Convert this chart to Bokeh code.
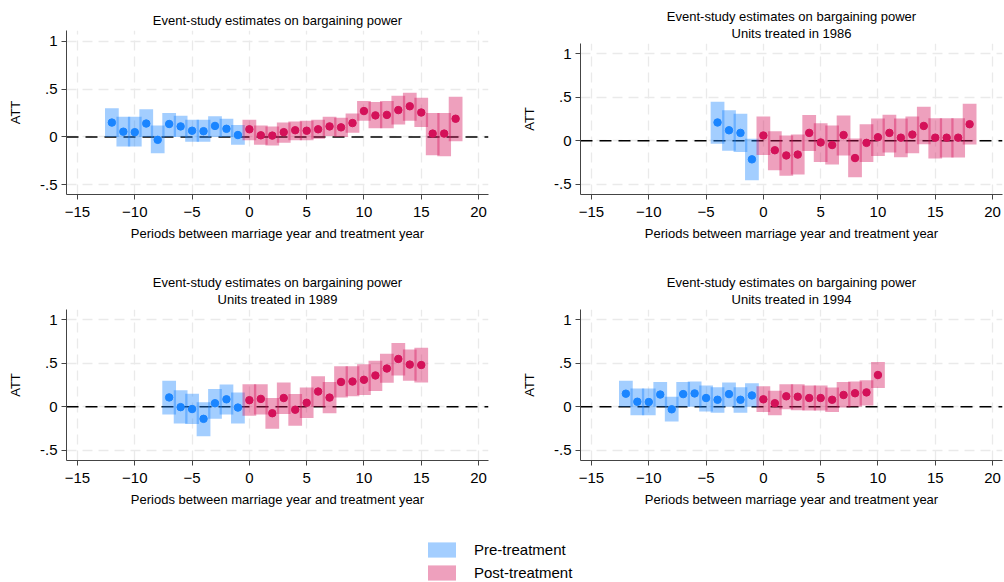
from bokeh.plotting import figure
from bokeh.layouts import column, row
from bokeh.models import (Range1d, FixedTicker, Span, Title, Legend, LegendItem,
                          ColumnDataSource)
from bokeh.embed import file_html
from bokeh.resources import INLINE

# ---------------- data ----------------
# Panel 1: all cohorts
p1_periods = list(range(-12, 19))
p1_est = [0.15, 0.055, 0.05, 0.14, -0.03, 0.135, 0.11, 0.065, 0.06, 0.115, 0.085, 0.02,
          0.08, 0.017, 0.014, 0.05, 0.07, 0.065, 0.08, 0.11, 0.10, 0.145, 0.27, 0.225,
          0.23, 0.28, 0.32, 0.255, 0.035, 0.035, 0.19]
p1_lo = [0.0, -0.10, -0.10, 0.0, -0.17, 0.0, 0.0, -0.05, -0.05, 0.0, 0.0, -0.08,
         -0.035, -0.08, -0.09, -0.06, -0.035, -0.035, -0.02, 0.01, 0.0, 0.045, 0.17, 0.09,
         0.09, 0.13, 0.17, 0.105, -0.19, -0.20, -0.045]
p1_hi = [0.30, 0.21, 0.21, 0.29, 0.12, 0.25, 0.22, 0.18, 0.18, 0.215, 0.19, 0.125,
         0.18, 0.12, 0.11, 0.15, 0.16, 0.17, 0.18, 0.21, 0.20, 0.245, 0.375, 0.365,
         0.375, 0.43, 0.46, 0.41, 0.25, 0.25, 0.42]

# Panel 2: units treated in 1986
p2_periods = list(range(-4, 19))
p2_est = [0.21, 0.12, 0.09, -0.215, 0.06, -0.11, -0.17, -0.16, 0.09, -0.02, -0.05, 0.065,
          -0.20, -0.025, 0.04, 0.09, 0.035, 0.07, 0.17, 0.035, 0.035, 0.035, 0.19]
p2_lo = [-0.035, -0.115, -0.13, -0.455, -0.165, -0.34, -0.405, -0.39, -0.12, -0.245, -0.275,
         -0.17, -0.42, -0.245, -0.175, -0.135, -0.19, -0.145, -0.04, -0.205, -0.195, -0.195,
         -0.045]
p2_hi = [0.45, 0.35, 0.31, 0.023, 0.28, 0.11, 0.06, 0.07, 0.295, 0.20, 0.175, 0.29,
         0.025, 0.19, 0.255, 0.30, 0.255, 0.28, 0.39, 0.26, 0.26, 0.26, 0.425]

# Panel 3: units treated in 1989
p3_periods = list(range(-7, 16))
p3_est = [0.107, -0.005, -0.027, -0.14, 0.04, 0.085, -0.01, 0.075, 0.09, -0.075, 0.10,
          -0.035, 0.045, 0.175, 0.105, 0.285, 0.29, 0.31, 0.36, 0.44, 0.55, 0.485, 0.48]
p3_lo = [-0.09, -0.195, -0.20, -0.34, -0.14, -0.09, -0.195, -0.105, -0.09, -0.255, -0.085,
         -0.22, -0.13, 0.0, -0.075, 0.105, 0.12, 0.135, 0.18, 0.275, 0.36, 0.30, 0.28]
p3_hi = [0.30, 0.19, 0.15, 0.05, 0.205, 0.255, 0.165, 0.26, 0.26, 0.10, 0.28, 0.145,
         0.22, 0.35, 0.285, 0.465, 0.465, 0.49, 0.53, 0.61, 0.735, 0.66, 0.68]

# Panel 4: units treated in 1994
p4_periods = list(range(-12, 11))
p4_est = [0.15, 0.057, 0.054, 0.14, -0.03, 0.145, 0.153, 0.10, 0.08, 0.145, 0.08, 0.13,
          0.085, 0.04, 0.12, 0.115, 0.10, 0.10, 0.08, 0.135, 0.155, 0.165, 0.365]
p4_lo = [0.0, -0.10, -0.10, 0.0, -0.17, 0.0, 0.0, -0.055, -0.07, 0.0, -0.07, 0.0,
         -0.06, -0.10, -0.03, -0.04, -0.045, -0.045, -0.06, -0.01, 0.0, 0.015, 0.215]
p4_hi = [0.30, 0.21, 0.21, 0.285, 0.115, 0.285, 0.29, 0.245, 0.225, 0.28, 0.225, 0.27,
         0.235, 0.185, 0.26, 0.26, 0.245, 0.245, 0.22, 0.285, 0.29, 0.305, 0.515]

title_main = "Event-study estimates on bargaining power"
subtitles = [None, "Units treated in 1986", "Units treated in 1989", "Units treated in 1994"]
x_label = "Periods between marriage year and treatment year"
y_label = "ATT"
x_ticks = [-15, -10, -5, 0, 5, 10, 15, 20]
y_ticks = [-0.5, 0, 0.5, 1]
y_tick_labels = ["-.5", "0", ".5", "1"]
legend_labels = ["Pre-treatment", "Post-treatment"]

PRE_COLOR = "#1A85FF"
POST_COLOR = "#D41159"
FONT = "Liberation Sans"


def title_obj(text, standoff):
    return Title(text=text, align="center", text_font=FONT, text_font_size="13px",
                 text_font_style="normal", text_color="black", standoff=standoff)


def make_panel(periods, est, lo, hi, subtitle, size, borders, x_rng, y_rng):
    left, right, top, bottom = borders
    w, h = size
    p = figure(width=w, height=h, output_backend="svg",
               toolbar_location=None, x_range=Range1d(*x_rng), y_range=Range1d(*y_rng),
               min_border_left=left, min_border_right=right, min_border_top=top,
               min_border_bottom=bottom)
    p.outline_line_color = None
    p.background_fill_color = "white"
    # titles: main title on top, subtitle just above the frame
    p.title = title_obj(title_main, -5 if subtitle else 5)
    if subtitle:
        p.add_layout(title_obj(subtitle, 5), "above")
    # grid
    p.xgrid.ticker = FixedTicker(ticks=x_ticks)
    p.ygrid.ticker = FixedTicker(ticks=y_ticks)
    for g in (p.xgrid, p.ygrid):
        g.grid_line_color = "#EAEAEA"
        g.grid_line_dash = "10 6"
        g.grid_line_width = 1.3
    # axes
    p.xaxis.ticker = FixedTicker(ticks=x_ticks)
    p.yaxis.ticker = FixedTicker(ticks=y_ticks)
    p.yaxis.major_label_overrides = {t: l for t, l in zip(y_ticks, y_tick_labels)}
    p.xaxis.axis_label = x_label
    p.yaxis.axis_label = y_label
    for ax in (p.xaxis, p.yaxis):
        ax.axis_line_color = "#444444"
        ax.major_tick_line_color = "#444444"
        ax.major_tick_out = 5
        ax.major_tick_in = 0
        ax.minor_tick_line_color = None
        ax.major_label_text_font = FONT
        ax.major_label_text_font_size = "15px"
        ax.major_label_text_color = "black"
        ax.axis_label_text_font = FONT
        ax.axis_label_text_font_size = "13px"
        ax.axis_label_text_font_style = "normal"
        ax.axis_label_text_color = "black"
    p.xaxis.major_label_standoff = 7
    p.xaxis.axis_label_standoff = 6
    p.yaxis.major_label_standoff = 4
    p.yaxis.axis_label_standoff = 14
    p.yaxis.major_label_orientation = "horizontal"
    # zero line
    p.add_layout(Span(location=0, dimension="width", line_color="black",
                      line_width=1.4, line_dash="12 7", level="underlay"))
    pre = [i for i, x in enumerate(periods) if x < 0]
    post = [i for i, x in enumerate(periods) if x >= 0]
    for idx, col in ((pre, PRE_COLOR), (post, POST_COLOR)):
        src = ColumnDataSource(dict(x=[periods[i] for i in idx], y=[est[i] for i in idx],
                                    lo=[lo[i] for i in idx], hi=[hi[i] for i in idx]))
        p.vbar(x="x", width=1.2, bottom="lo", top="hi", source=src, fill_color=col,
               fill_alpha=0.4, line_color=None)
        p.scatter(x="x", y="y", source=src, size=7.5, fill_color=col, line_color=col)
    return p


XR = (-15.96, 20.87)
YR_1 = (-0.60, 1.11)
YR_2 = (-0.62, 1.12)

f1 = make_panel(p1_periods, p1_est, p1_lo, p1_hi, subtitles[0], (502, 265), (66, 14, 30, 71), XR, YR_1)
f2 = make_panel(p2_periods, p2_est, p2_lo, p2_hi, subtitles[1], (502, 265), (78, 2, 43, 71), XR, YR_2)
f3 = make_panel(p3_periods, p3_est, p3_lo, p3_hi, subtitles[2], (502, 245), (66, 14, 44, 50), XR, YR_2)
f4 = make_panel(p4_periods, p4_est, p4_lo, p4_hi, subtitles[3], (502, 245), (78, 2, 44, 50), XR, YR_2)

# legend figure
nan = float("nan")
lg = figure(width=1004, height=72, output_backend="svg", toolbar_location=None,
            x_axis_type=None, y_axis_type=None, min_border=0,
            x_range=Range1d(0, 1), y_range=Range1d(0, 1))
lg.outline_line_color = None
lg.xgrid.visible = False
lg.ygrid.visible = False
r_pre = lg.vbar(x=[nan], top=[nan], bottom=[nan], width=1, fill_color=PRE_COLOR,
                fill_alpha=0.4, line_color=None)
r_post = lg.vbar(x=[nan], top=[nan], bottom=[nan], width=1, fill_color=POST_COLOR,
                 fill_alpha=0.4, line_color=None)
legend = Legend(items=[LegendItem(label=legend_labels[0], renderers=[r_pre]),
                       LegendItem(label=legend_labels[1], renderers=[r_post])],
                location=(424, 0), orientation="vertical", glyph_width=35, glyph_height=19,
                label_height=19, spacing=4, padding=0, margin=0, label_standoff=15,
                label_text_font=FONT, label_text_font_size="15px", label_text_color="black",
                border_line_color=None, background_fill_alpha=0)
lg.add_layout(legend, "center")

layout = column(row(column(f1, f3), column(f2, f4)), lg)
open("out.html", "w").write(file_html(layout, INLINE))
